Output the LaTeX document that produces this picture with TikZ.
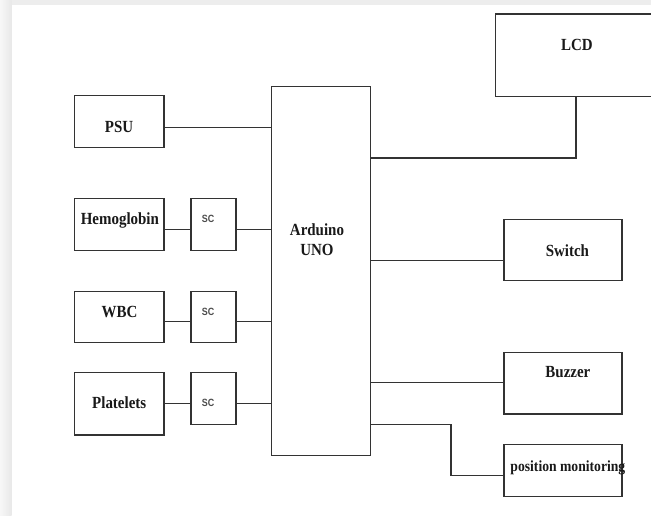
\documentclass[tikz,border=0pt]{standalone}
\usepackage{fontspec}
\newfontfamily\lblfont{Liberation Serif}[FakeStretch=0.88]
\newfontfamily\scfont{Liberation Sans}[FakeStretch=0.85]
\begin{document}
\begin{tikzpicture}[x=1pt,y=-1pt,
  blk/.style={draw=black!80, line width=1.1pt, rectangle, inner sep=0pt, fill=white},
  lbl/.style={inner sep=0pt, text height=11.2pt, text depth=0pt, font=\lblfont\bfseries\fontsize{17}{20}\selectfont, text=black!90},
  smlbl/.style={inner sep=0pt, text height=11pt, text depth=0pt, font=\lblfont\bfseries\fontsize{15.5}{18}\selectfont, text=black!90},
  sclbl/.style={inner sep=0pt, text height=7.5pt, text depth=0pt, font=\scfont\bfseries\fontsize{10.5}{12}\selectfont, text=black!70},
  wire/.style={draw=black!80, line width=1.1pt}]
\useasboundingbox (0,0) rectangle (651,516);
% screenshot edge shading
\fill[black!7] (0,0) rectangle (651,5);
\shade[left color=black!3, right color=black!9] (0,0) rectangle (11.5,516);
% boxes
\node[blk, minimum width=89.7pt, minimum height=51.6pt] (psu) at (119.15,121.5) {};
\node[blk, minimum width=89.7pt, minimum height=52.4pt] (hemo) at (119.15,224.5) {};
\node[blk, minimum width=45pt, minimum height=52.4pt] (sc1) at (213.5,224.5) {};
\node[blk, minimum width=89.7pt, minimum height=51pt] (wbc) at (119.15,317.2) {};
\node[blk, minimum width=45pt, minimum height=51pt] (sc2) at (213.5,317.2) {};
\node[blk, minimum width=89.7pt, minimum height=62.7pt] (plat) at (119.15,403.65) {};
\node[blk, minimum width=45pt, minimum height=52pt] (sc3) at (213.5,398.3) {};
\node[blk, minimum width=99.2pt, minimum height=369.2pt] (ard) at (321.1,271.1) {};
\node[blk, minimum width=164.7pt, minimum height=82.7pt] (lcd) at (577.65,55.35) {};
\node[blk, minimum width=118pt, minimum height=61pt] (sw) at (563,249.8) {};
\node[blk, minimum width=118pt, minimum height=61.7pt] (buz) at (563,383.15) {};
\node[blk, minimum width=118pt, minimum height=52.4pt] (pos) at (563,470.5) {};
% texts
\node[lbl] (psuT) at (119,127.3) {PSU};
\node[lbl] (hemoT) at (119.9,219.3) {Hemoglobin};
\node[lbl] (wbcT) at (119.5,311.7) {WBC};
\node[lbl] (platT) at (119.2,402.7) {Platelets};
\node[sclbl] (sc1T) at (208,219) {SC};
\node[sclbl] (sc2T) at (208,311.7) {SC};
\node[sclbl] (sc3T) at (208,403) {SC};
\node[lbl] (ardT) at (317,230) {Arduino};
\node[lbl] (unoT) at (317,250) {UNO};
\node[lbl] (lcdT) at (577,45) {LCD};
\node[lbl] (swT) at (567.4,250.7) {Switch};
\node[lbl] (buzT) at (567.9,372.3) {Buzzer};
\node[smlbl] (posT) at (567.9,466) {position monitoring};
% connectors
\draw[wire] (psu.east |- 0,127.3) -- (ard.west |- 0,127.3);
\draw[wire] (hemo.east |- 0,229.3) -- (sc1.west |- 0,229.3);
\draw[wire] (sc1.east |- 0,229.3) -- (ard.west |- 0,229.3);
\draw[wire] (wbc.east |- 0,321.3) -- (sc2.west |- 0,321.3);
\draw[wire] (sc2.east |- 0,321.3) -- (ard.west |- 0,321.3);
\draw[wire] (plat.east |- 0,403.3) -- (sc3.west |- 0,403.3);
\draw[wire] (sc3.east |- 0,403.3) -- (ard.west |- 0,403.3);
\coordinate (lcdbend) at (576,158);
\draw[wire] (ard.east |- lcdbend) -- (lcdbend) -- (lcdbend |- lcd.south);
\draw[wire] (ard.east |- 0,260.7) -- (sw.west |- 0,260.7);
\draw[wire] (ard.east |- 0,382.7) -- (buz.west |- 0,382.7);
\coordinate (posbend1) at (451,424.4);
\coordinate (posbend2) at (451,475.7);
\draw[wire] (ard.east |- posbend1) -- (posbend1) -- (posbend2) -- (pos.west |- posbend2);
\end{tikzpicture}
\end{document}
